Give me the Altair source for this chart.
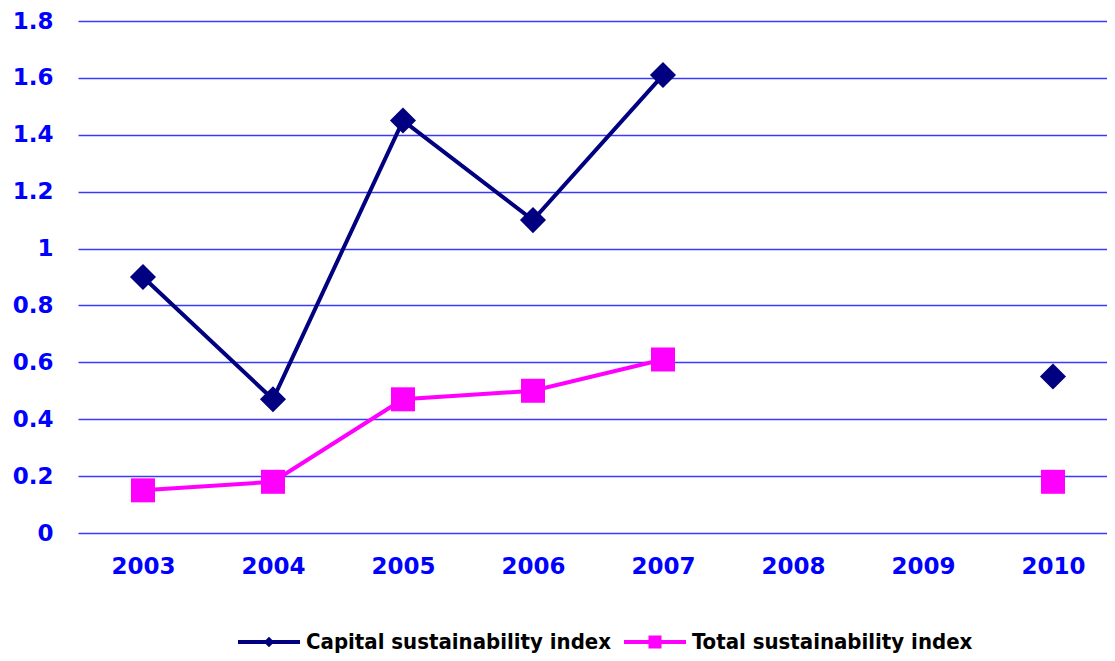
import altair as alt
import pandas as pd

years = ["2003", "2004", "2005", "2006", "2007", "2008", "2009", "2010"]
capital = [0.90, 0.47, 1.45, 1.10, 1.61, None, None, 0.55]
total = [0.15, 0.18, 0.47, 0.50, 0.61, None, None, 0.18]
series = ["Capital sustainability index", "Total sustainability index"]
colors = ["#000080", "#ff00ff"]
y_ticks = [0, 0.2, 0.4, 0.6, 0.8, 1.0, 1.2, 1.4, 1.6, 1.8]

rows = []
for yr, c, t in zip(years, capital, total):
    rows.append({"year": yr, "series": series[0], "value": c})
    rows.append({"year": yr, "series": series[1], "value": t})
df = pd.DataFrame(rows)

FONT = "DejaVu Sans"

x = alt.X("year:O", scale=alt.Scale(domain=years, padding=0.4577, align=0.546),
          axis=alt.Axis(title=None, labelAngle=0, ticks=False, domain=False,
                        labelColor="#0000ff", labelFont=FONT, labelFontWeight="bold",
                        labelFontSize=23, labelPadding=22, grid=False))
y = alt.Y("value:Q", scale=alt.Scale(domain=[0, 1.8], nice=False),
          axis=alt.Axis(title=None, values=y_ticks, format="~g", ticks=False, domain=False,
                        labelColor="#0000ff", labelFont=FONT, labelFontWeight="bold",
                        labelFontSize=23, labelPadding=25,
                        grid=True, gridColor="#3a3aff", gridWidth=1.3, gridOpacity=1))

color = alt.Color("series:N", scale=alt.Scale(domain=series, range=colors), legend=None)

base = alt.Chart(df)

lines = base.mark_line(strokeWidth=4, invalid="break-paths-show-domains").encode(
    x=x, y=y, color=color, detail="series:N")

points = base.transform_filter("datum.value != null").mark_point(
    filled=True, opacity=1, strokeWidth=0).encode(
    x=x, y=y,
    fill=alt.Fill("series:N", scale=alt.Scale(domain=series, range=colors), legend=None),
    shape=alt.Shape("series:N", scale=alt.Scale(domain=series, range=["diamond", "square"]), legend=None),
    size=alt.Size("series:N", scale=alt.Scale(domain=series, range=[680, 576]), legend=None),
)

path_cap = "M-1,-0.065L1,-0.065L1,0.065L-1,0.065Z M0,-0.17L0.17,0L0,0.17L-0.17,0Z"
path_tot = "M-1,-0.065L1,-0.065L1,0.065L-1,0.065Z M-0.21,-0.21L0.21,-0.21L0.21,0.21L-0.21,0.21Z"

legend_layer = base.transform_filter("datum.value != null").mark_point(
    filled=True, size=0, opacity=1, strokeWidth=0).encode(
    x=x, y=y,
    fill=alt.Fill("series:N", scale=alt.Scale(domain=series, range=colors),
                  legend=alt.Legend(title=None, orient="none", legendX=160, legendY=590,
                                    direction="horizontal", symbolSize=3844,
                                    symbolOpacity=1, symbolStrokeWidth=0,
                                    labelFont="DejaVu Sans Condensed", labelFontWeight="bold",
                                    labelFontSize=22, labelColor="#000000",
                                    labelOffset=6, columnPadding=13, labelLimit=400)),
    shape=alt.Shape("series:N", scale=alt.Scale(domain=series, range=[path_cap, path_tot])),
)

chart = alt.layer(lines, points, legend_layer).resolve_scale(
    shape="independent", color="independent", fill="independent"
).properties(
    width=1029, height=512,
    padding={"left": 70, "top": 13, "right": 0, "bottom": 120},
    autosize=alt.AutoSizeParams(type="none"),
    background="white",
).configure_view(strokeOpacity=0, strokeWidth=0)

chart.save("out.html", embed_options={"renderer": "svg", "actions": False})
